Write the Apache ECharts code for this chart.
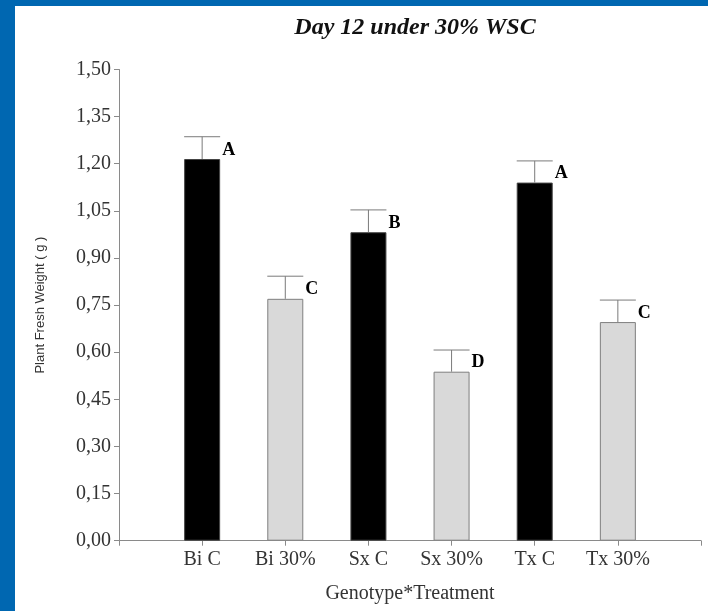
<!DOCTYPE html>
<html>
<head>
<meta charset="utf-8">
<title>Plant Fresh Weight</title>
<script src="https://cdn.jsdelivr.net/npm/echarts@6/dist/echarts.min.js"></script>
<style>
  html, body { margin: 0; padding: 0; background: #ffffff; }
  #chart { width: 708px; height: 611px; }
</style>
</head>
<body>
<div id="chart"></div>
<script>
// Genotype x treatment groups, mean fresh weight (g), standard error, and letter groups
const categories = ['Bi C', 'Bi 30%', 'Sx C', 'Sx 30%', 'Tx C', 'Tx 30%'];
const means = [1.215, 0.770, 0.982, 0.538, 1.140, 0.696];
const errors = [0.071, 0.072, 0.071, 0.069, 0.069, 0.070];
const letters = ['A', 'C', 'B', 'D', 'A', 'C'];
const isControl = [true, false, true, false, true, false];
const yTicks = { min: 0, max: 1.5, step: 0.15 };

const BAR_W = 36;
const positions = categories.map((_, i) => i + 1);

const chart = echarts.init(document.getElementById('chart'), null, { renderer: 'canvas' });

const barData = means.map((m, i) => ({
  value: [positions[i], m],
  itemStyle: isControl[i]
    ? { color: '#000000', borderColor: '#444444', borderWidth: 1 }
    : { color: '#d9d9d9', borderColor: '#7f7f7f', borderWidth: 1 }
}));

const errData = means.map((m, i) => [positions[i], m, m + errors[i], i]);

chart.setOption({
  animation: false,
  backgroundColor: '#ffffff',
  title: {
    text: 'Day 12 under 30% WSC',
    left: 410,
    top: 11,
    textAlign: 'center',
    textStyle: {
      fontFamily: 'Liberation Serif',
      fontStyle: 'italic',
      fontWeight: 'bold',
      fontSize: 24,
      color: '#111111'
    }
  },
  graphic: [
    { type: 'rect', shape: { x: 0, y: 0, width: 708, height: 6 }, style: { fill: '#0067b1' }, z: 100 },
    { type: 'rect', shape: { x: 0, y: 0, width: 15, height: 611 }, style: { fill: '#0067b1' }, z: 100 }
  ],
  grid: { left: 119, right: 7, top: 69.5, bottom: 70.3 },
  xAxis: {
    type: 'value',
    min: 0,
    max: categories.length + 1,
    interval: 1,
    name: 'Genotype*Treatment',
    nameLocation: 'middle',
    nameGap: 43,
    nameTextStyle: { fontFamily: 'Liberation Serif', fontSize: 20, color: '#333333' },
    axisLine: { show: true, lineStyle: { color: '#8a8a8a', width: 1 } },
    axisTick: { show: true, length: 5, lineStyle: { color: '#8a8a8a' } },
    splitLine: { show: false },
    axisLabel: {
      margin: 9,
      fontFamily: 'Liberation Serif',
      fontSize: 20,
      color: '#333333',
      showMinLabel: true,
      showMaxLabel: true,
      formatter: v => categories[v - 1] || ''
    }
  },
  yAxis: {
    type: 'value',
    min: yTicks.min,
    max: yTicks.max,
    interval: yTicks.step,
    name: 'Plant Fresh Weight ( g )',
    nameLocation: 'middle',
    nameGap: 72,
    nameRotate: 90,
    nameTextStyle: { fontFamily: 'Liberation Sans', fontSize: 13, color: '#333333' },
    axisLine: { show: true, lineStyle: { color: '#8a8a8a', width: 1 } },
    axisTick: { show: true, length: 5, lineStyle: { color: '#8a8a8a' } },
    splitLine: { show: false },
    axisLabel: {
      margin: 8,
      fontFamily: 'Liberation Serif',
      fontSize: 20,
      color: '#333333',
      formatter: v => v.toFixed(2).replace('.', ',')
    }
  },
  series: [
    {
      type: 'bar',
      data: barData,
      barWidth: BAR_W,
      z: 2
    },
    {
      type: 'custom',
      data: errData,
      z: 3,
      renderItem: function (params, api) {
        const x = api.value(0);
        const base = api.coord([x, api.value(1)]);
        const top = api.coord([x, api.value(2)]);
        const idx = api.value(3);
        const half = BAR_W / 2;
        return {
          type: 'group',
          children: [
            {
              type: 'line',
              shape: { x1: base[0], y1: base[1], x2: top[0], y2: top[1] },
              style: { stroke: '#7a7a7a', lineWidth: 1 }
            },
            {
              type: 'line',
              shape: { x1: top[0] - half, y1: top[1], x2: top[0] + half, y2: top[1] },
              style: { stroke: '#7a7a7a', lineWidth: 1 }
            },
            {
              type: 'text',
              style: {
                x: base[0] + half + 2,
                y: base[1] - 9,
                text: letters[idx],
                fontFamily: 'Liberation Serif',
                fontWeight: 'bold',
                fontSize: 18,
                fill: '#000000',
                textAlign: 'left',
                textVerticalAlign: 'middle'
              }
            }
          ]
        };
      }
    }
  ]
});
</script>
</body>
</html>
